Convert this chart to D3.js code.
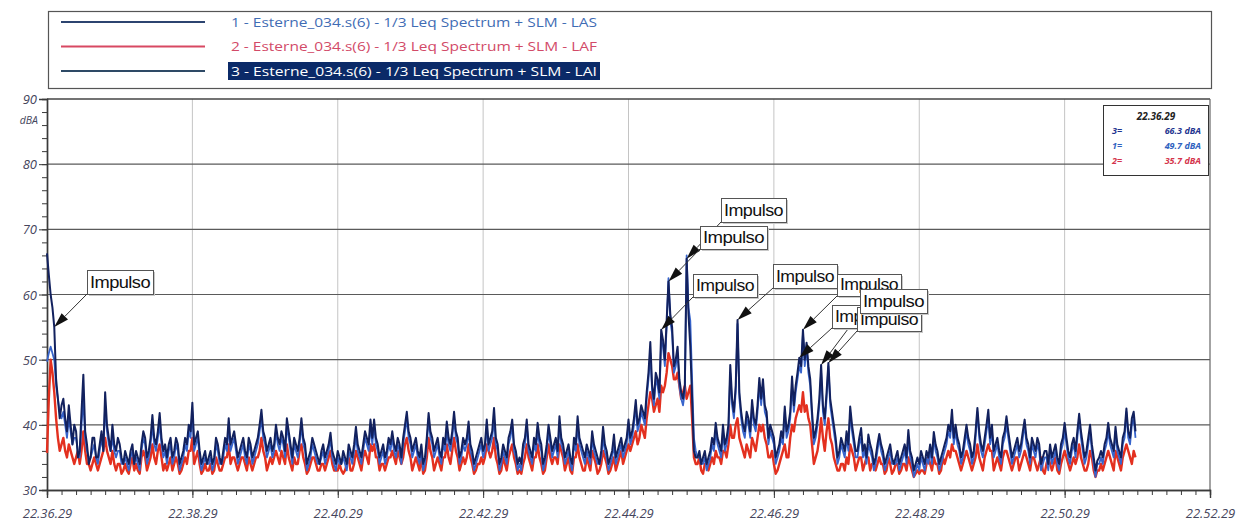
<!DOCTYPE html>
<html><head><meta charset="utf-8">
<script src="https://cdn.jsdelivr.net/npm/d3@7"></script>
<style>body{margin:0;background:#fff}svg{display:block}</style>
</head><body><svg id="c" width="1247" height="528"></svg>
<script>
// ---------- DATA ----------
const stepSeconds = 1.5; // one sample every 1.5 s, starting 22.36.29
const xTickLabels = ["22.36.29","22.38.29","22.40.29","22.42.29","22.44.29","22.46.29","22.48.29","22.50.29","22.52.29"];
const yTickValues = [30,40,50,60,70,80,90];
const seriesNames = [
  "1 - Esterne_034.s(6) - 1/3 Leq Spectrum + SLM - LAS",
  "2 - Esterne_034.s(6) - 1/3 Leq Spectrum + SLM - LAF",
  "3 - Esterne_034.s(6) - 1/3 Leq Spectrum + SLM - LAI"
];
const lai = [
66.3,63,60,58,55,47,44,41,43,44,41,39,43,40,37,40,39,35,36,42,
47.7,39,37,34,35,38,38,35,35,37,39,36,45,40,38,36,40,37,36,38,
37,35,34,36,35,34,36,37,34,36,35,34,37,39,38,35,36,38,41.5,38,
37,39,41.8,38,36,37,35,37,38,35,36,38,37,34,35,36,38,37,40,39,
43.4,37,38,39,36,34,35,36,34,35,36,34,35,38,37,35,34,36,38,37,
41,37,38,39,37,35,36,37,38,36,35,38,37,35,36,37,38,40,42.3,39,
38,36,37,38,36,37,40,38,37,39,38,36,41,39,37,35,38,37,36,38,
41,38,37,34,35,36,38,37,36,35,34,36,37,35,36,37,38.8,36,35,34,
36,35,34,36,35,34,37,36,35,37,39.7,37,36,35,37,39,38,37,40.8,38,
40.8,38,37,35,36,37,35,36,38,37,39,37,36,38,37,35,38,40,42,39,
38,36,37,38,36,35,37,34,35,38,41.8,39,38,36,37,38,36,35,38,37,
40.5,38,37,39,42,39,38,35,36,38,37,38,40.5,37,36,34,35,36,37,38,
36,37,40.8,37,38,39,42.6,38,37,34,35,37,36,35,38,39,40.8,37,36,34,
35,34,37,38,40.8,37,36,35,38,37,40.3,38,37,34,35,37,40,38,36,37,
38,36,41.3,38,37,35,36,37,35,34,38,37,41.3,38,37,36,35,37,36,35,
39,37,36,35,34,36,39.7,37,36,34,35,36,38.5,35,36,37,38,36,37,38,
40.8,38,39,41,43.8,40,41,43,42,41,45,48,52.7,46,44,48,47,45,54.6,53,
50,56,62,57,55,49,50,52,47,45,44,46,65.5,57,52,44,36,35,35,36,
34,35,36,34,35,36,38,37,40.3,38,37,36,40,37,38,40,49.2,44,42,46,
56.1,45,42,40,39,42,41,39,43.8,41,40,43,47.2,44,47,43,42,38,40,39,
38,35,36,37,39,38,42.8,39,40,42,47.4,43,46,48,50.3,49,54.6,50,52.6,49,
47,42,38,39,41,44,49.2,43,41,45,49.5,44,42,40,38,35,36,38,37,36,
39,37,42.8,40,38,36,36,38,39.5,36,37,35,38.5,37,36,34,35,37,38.6,37,
36,34,35,36,37,35,34,35,36,34,35,36,37,35,39.2,36,35,33,34,35,
34,36,35,34,36,35,37,35,38.9,37,36,34,35,36,37,38,40,39,42.3,38,
40,38,37,35,36,38,40,38,37,35,36,39,42.6,39,37,36,38,40,42.3,38,
40,36,37,38,36,35,38,39,41.3,39,37,35,36,37,38,36,37,39,40.8,38,
37,35,38,37,36,38,37,34,35,36,36,34,37,35,36,37,35,34,37,38,
40.3,38,36,35,37,38,36,39,41.7,39,37,35,36,38,40,37,35,33,34.5,35,
36,35,37,38,40.3,38,37,36,39.7,37,36,35,38,39,42.5,39,38,41,42,39
];
const las = [
49.7,51,52,51,50,46,44,42,41,42,40,38,41,39,37,38,38,36,35,40,
44,38,36,35,35,36,37,35,34,36,38,36,43,39,37,36,38,36,35,36,
36,34,34,35,34,33,35,36,34,35,34,33,36,38,37,34,35,37,40,37,
36,38,40,37,35,36,34,36,37,34,35,37,36,33,34,35,37,36,39,38,
42,36,37,38,35,33,34,35,34,34,35,33,34,37,36,34,34,35,37,36,
40,36,37,38,36,34,35,36,37,35,34,37,36,34,35,36,37,39,41,38,
37,35,36,37,35,36,39,37,36,38,37,35,40,38,36,34,37,36,35,37,
40,37,36,33,34,35,37,36,35,34,34,35,36,34,35,36,38,35,34,33,
35,34,34,35,34,33,36,35,34,36,38,36,35,34,36,38,37,36,40,37,
40,37,36,34,35,36,34,35,37,36,38,36,35,37,36,34,37,39,41,38,
37,35,36,37,35,34,36,33,34,37,41,38,37,35,36,37,35,34,37,36,
39,37,36,38,41,38,37,34,35,37,36,37,39,36,35,33,34,35,36,37,
35,36,40,36,37,38,41,37,36,33,34,36,35,34,37,38,40,36,35,33,
34,33,36,37,40,36,35,34,37,36,39,37,36,33,34,36,39,37,35,36,
37,35,40,37,36,34,35,36,34,33,37,36,40,37,36,35,34,36,35,34,
38,36,35,34,34,35,38,36,35,33,34,35,37,34,35,36,37,35,36,37,
40,37,38,40,43,39,40,42,41,40,44,47,51,45,43,47,46,44,53,52,
49,55,62.5,56,54,48,49,51,46,44,43,45,66,58,56,47,38,36,35,35,
34,34,35,33,34,35,37,36,39,37,36,35,39,36,37,39,48,43,41,45,
55.5,44,41,39,38,41,40,38,43,40,39,42,46,43,46,42,41,37,39,38,
37,34,35,36,38,37,42,38,39,41,46,42,45,47,49,48,54,49,52,48,
46,41,37,38,40,43,48,42,40,44,49,43,41,39,37,34,35,37,36,35,
38,36,42,39,37,35,35,37,38,35,36,34,37,36,35,33,34,36,38,36,
35,33,34,35,36,34,34,34,35,33,34,35,36,34,38,35,34,32,33,34,
33,35,34,33,35,34,36,34,38,36,35,33,34,35,36,37,39,38,41,37,
39,37,36,34,35,37,39,37,36,34,35,38,42,38,36,35,37,39,41,37,
39,35,36,37,35,34,37,38,40,38,36,34,35,36,37,35,36,38,40,37,
36,34,37,36,35,37,36,33,34,35,35,33,36,34,35,36,34,33,36,37,
39,37,35,34,36,37,35,38,41,38,36,34,35,37,39,36,34,32,34,34,
35,34,36,37,39,37,36,35,39,36,35,34,37,38,42,38,37,40,41,38
];
const laf = [
35.7,44,50,48,45,41,38,36,37,38,36,35,37,36,35,34,35,36,34,36,
39,36,34,34,33,34,35,34,33,34,35,36,38,36,35,34,36,34,33,34,
34,32.5,33,34,33,32.5,34,35,33,34,33,32.5,35,36,35,33,34,35,37,35,
34,36,37,35,33,34,33,34,35,33,34,35,34,32.5,33,34,35,34,36,36,
38,34,35,36,34,32.5,33,34,33,33,34,32.5,33,35,34,33,33,34,35,35,
37,34,35,35,34,33,34,35,35,34,33,35,34,33,34,35,35,36,38,36,
35,33,34,35,34,35,36,35,34,36,35,34,37,35,34,33,35,34,34,36,
37,35,34,32.5,33,34,35,35,34,33,33,34,34,33,34,35,36,34,33,33,
33,34,33,32.5,33,34,35,33,33,34,36,35,34,33,35,36,35,34,37,36,
37,35,35,33,34,34,33,34,35,35,36,35,34,36,35,34,35,37,38,36,
35,33,34,35,34,33,35,32.5,33,35,38,36,35,33,34,35,34,33,35,35,
37,35,34,36,38,36,35,33,34,35,34,35,37,35,34,32.5,33,34,34,35,
34,35,37,36,35,36,38,35,34,32.5,33,35,34,33,35,36,37,35,34,32.5,
33,32.5,34,35,37,35,34,33,35,35,37,35,34,32.5,33,35,37,35,34,35,
35,34,37,36,35,33,34,35,33,32.5,35,35,37,35,34,33,33,35,34,33,
36,35,34,32.5,33,34,36,35,34,32.5,33,34,35,33,34,35,36,34,35,36,
37,36,37,38,39,37,38,40,39,38,41,43,45,44,42,43,44,42,46,45,
46,48,51,50,49,47,47,48,46,44,45,46,44,45,46,41,35,34,34,35,
33,32.5,34,34,33,34,35,34,36,35,35,34,36,36,35,37,40,38,38,40,
41,38,37,36,35,37,36,35,38,37,36,38,40,39,40,38,37,35,35,36,
34,32.5,33,34,35,36,37,35,35,38,40,39,41,42,43,42,45,42,43,41,
40,37,34,35,36,38,41,38,36,39,41,38,37,35,34,33,33,34,34,33,
35,34,37,36,35,33,34,35,35,33,34,35,35,33,34,34,33,34,35,34,
34,32.5,33,35,34,32.5,33,34,34,32.5,33,34,34,33,35,34,33,32,32.5,33,
32.5,33,33,32.5,34,35,34,33,35,34,34,32.5,33,35,34,35,36,35,37,36,
36,35,34,33,34,35,36,35,34,33,34,35,37,35,34,33,35,36,37,36,
36,33,34,35,34,33,35,36,36,35,34,33,34,35,35,33,34,35,36,35,
34,33,35,35,34,33,34,35,33,32.5,34,35,34,33,34,35,33,32.5,34,35,
36,35,34,33,34,35,34,35,37,35,34,33,33,34,36,35,33,32,33,33,
34,33,34,35,36,35,34,33,36,35,34,33,35,36,37,36,35,34,36,35
];
const cursorTime = "22.36.29";
const cursorLabels = ["3=","1=","2="];
const cursorValues = ["66.3 dBA","49.7 dBA","35.7 dBA"];
const impulseTimes = [6,528,513,507,570,624,639,621,645]; // seconds after 22.36.29
const impulseText = "Impulso";

// ---------- LAYOUT ----------
const svg = d3.select("#c");
const x = d3.scaleLinear().domain([0, 960]).range([47, 1210]);
const y = d3.scaleLinear().domain([30, 90]).range([490, 99]);
const colNavy = "#12215e", colBlue = "#3764cc", colRed = "#e3301f";
const axisCol = "#3a3a3a", labelCol = "#45455c";
const fontLbl = "'Open Sans', 'DejaVu Sans', sans-serif";

// legend
const lg = svg.append("g");
lg.append("rect").attr("x",48.5).attr("y",11.5).attr("width",1163).attr("height",77)
  .attr("fill","#fff").attr("stroke","#555").attr("stroke-width",1.2);
const legLine = ["#2c4470","#d84862","#2e4a66"];
const legText = ["#3f6cb4","#d24a68","#ffffff"];
seriesNames.forEach((n,i)=>{
  const yy = 22 + i*24.5;
  lg.append("line").attr("x1",61).attr("x2",205).attr("y1",yy).attr("y2",yy)
    .attr("stroke",legLine[i]).attr("stroke-width",2.2);
  if(i===2){
    lg.append("rect").attr("x",228).attr("y",yy-9).attr("width",372).attr("height",18).attr("fill","#0b2a68");
  }
  lg.append("text").attr("x",231).attr("y",yy+4.5).text(n)
    .attr("font-family",fontLbl).attr("font-size",12).attr("fill",legText[i])
    .attr("textLength",366).attr("lengthAdjust","spacingAndGlyphs");
});

// grid
const g = svg.append("g");
d3.range(1,8).forEach(k=>{
  g.append("line").attr("x1",x(k*120)).attr("x2",x(k*120)).attr("y1",y(90)).attr("y2",y(30))
    .attr("stroke","#c4c4c4").attr("stroke-width",1);
});
yTickValues.filter(v=>v>30).forEach(v=>{
  g.append("line").attr("x1",x(0)).attr("x2",x(960)).attr("y1",y(v)).attr("y2",y(v))
    .attr("stroke", v===90? "#444":"#5a5a5a").attr("stroke-width", v===90?1.6:1.2);
});
g.append("line").attr("x1",x(960)).attr("x2",x(960)).attr("y1",y(90)).attr("y2",y(30)).attr("stroke","#666").attr("stroke-width",1.2);

// axes
const yAxis = d3.axisLeft(y).tickValues(yTickValues).tickSize(8).tickFormat(d=>d);
const yMinor = d3.axisLeft(y).tickValues(d3.range(30,91,2)).tickSize(5).tickFormat("");
const xAxis = d3.axisBottom(x).tickValues(d3.range(0,961,120)).tickSize(8).tickFormat((d,i)=>xTickLabels[i]);
const xMinor = d3.axisBottom(x).tickValues(d3.range(0,961,12)).tickSize(5).tickFormat("");
function styleAxis(sel){
  sel.select(".domain").attr("stroke",axisCol).attr("stroke-width",1.4);
  sel.selectAll(".tick line").attr("stroke",axisCol);
  sel.selectAll("text").attr("fill",labelCol).attr("font-style","italic")
    .attr("font-family",fontLbl).attr("font-size",13);
}
svg.append("g").attr("transform",`translate(${x(0)},0)`).call(yMinor).call(styleAxis);
const ya = svg.append("g").attr("transform",`translate(${x(0)},0)`).call(yAxis).call(styleAxis);
ya.selectAll("text").attr("x",-10).attr("dy","0.35em");
svg.append("g").attr("transform",`translate(0,${y(30)})`).call(xMinor).call(styleAxis);
const xa = svg.append("g").attr("transform",`translate(0,${y(30)})`).call(xAxis).call(styleAxis);
xa.selectAll("text").attr("y",20).attr("dy","0.6em");
svg.append("text").attr("x",38).attr("y",124).attr("text-anchor","end").text("dBA")
  .attr("font-family",fontLbl).attr("font-style","italic").attr("font-size",10.5).attr("fill",labelCol);

// series
const line = d3.line().x((d,i)=>x(i*stepSeconds)).y(d=>y(d));
const plot = svg.append("g");
plot.append("path").datum(laf).attr("d",line).attr("fill","none").attr("stroke",colRed).attr("stroke-width",2.4).attr("stroke-linejoin","round");
plot.append("path").datum(las).attr("d",line).attr("fill","none").attr("stroke",colBlue).attr("stroke-width",1.8).attr("stroke-linejoin","round");
plot.append("path").datum(lai).attr("d",line).attr("fill","none").attr("stroke",colNavy).attr("stroke-width",2.0).attr("stroke-linejoin","round");

// cursor readout box
const cb = svg.append("g");
cb.append("rect").attr("x",1103.5).attr("y",105.5).attr("width",105).attr("height",70)
  .attr("fill","#fff").attr("stroke","#333").attr("stroke-width",1);
cb.append("text").attr("x",1156).attr("y",120).attr("text-anchor","middle").text(cursorTime)
  .attr("font-family",fontLbl).attr("font-weight","bold").attr("font-style","italic").attr("font-size",10).attr("fill","#222");
const cbCols = ["#1f3590", "#2f62c0", "#d4344c"];
cursorLabels.forEach((l,i)=>{
  const yy = 134 + i*15;
  cb.append("text").attr("x",1112).attr("y",yy).text(l).attr("font-family",fontLbl).attr("font-weight","bold")
    .attr("font-style","italic").attr("font-size",9).attr("fill",cbCols[i]);
  cb.append("text").attr("x",1201).attr("y",yy).attr("text-anchor","end").text(cursorValues[i]).attr("font-family",fontLbl)
    .attr("font-weight","bold").attr("font-style","italic").attr("font-size",9).attr("fill",cbCols[i]);
});

// impulse annotations
const boxes = [[87,270,66,24],[721,198,65,24],[700,226,67,23],[693,274,64,23],[773,264,64,24],[837,274,64,22],[860,289,67,24],[832,305,64,23],[857,307,64,24]];
const drawOrder = [0,1,2,3,4,5,7,8,6];
const ann = svg.append("g");
const defs = svg.append("defs");
drawOrder.forEach(k=>{
  const t = impulseTimes[k];
  const tx = x(t), ty = y(lai[Math.round(t/stepSeconds)]);
  const b = boxes[k];
  const sx = b[0], sy = b[1]+b[3];
  const dx = tx-sx, dy = ty-sy, len = Math.hypot(dx,dy);
  const ux = dx/len, uy = dy/len;
  const bx = tx-ux*15, by = ty-uy*15;
  const nx = -uy, ny = ux;
  ann.append("line").attr("x1",sx).attr("y1",sy).attr("x2",bx).attr("y2",by).attr("stroke","#333").attr("stroke-width",1);
  ann.append("path").attr("d",`M${tx},${ty}L${bx+nx*4.5},${by+ny*4.5}L${bx-nx*4.5},${by-ny*4.5}Z`).attr("fill","#111");
});
drawOrder.forEach(k=>{
  const b = boxes[k];
  const visW = (k===7) ? (boxes[8][0]-b[0]) : b[2];
  defs.append("clipPath").attr("id","clip"+k).append("rect").attr("x",b[0]).attr("y",b[1]).attr("width",visW).attr("height",b[3]);
  const gg = ann.append("g");
  gg.append("rect").attr("x",b[0]+2).attr("y",b[1]+2).attr("width",b[2]).attr("height",b[3]).attr("fill","#c8c8c8");
  gg.append("rect").attr("x",b[0]+0.5).attr("y",b[1]+0.5).attr("width",b[2]).attr("height",b[3]).attr("fill","#fff").attr("stroke","#555").attr("stroke-width",1);
  gg.append("g").attr("clip-path",`url(#clip${k})`).append("text").attr("x",b[0]+3).attr("y",b[1]+b[3]-6).text(impulseText)
    .attr("font-family","'Liberation Sans', Arial, sans-serif").attr("font-size",16).attr("fill","#111")
    .attr("textLength",b[2]-6).attr("lengthAdjust","spacingAndGlyphs").attr("letter-spacing",-0.5);
});
</script>
</body></html>
